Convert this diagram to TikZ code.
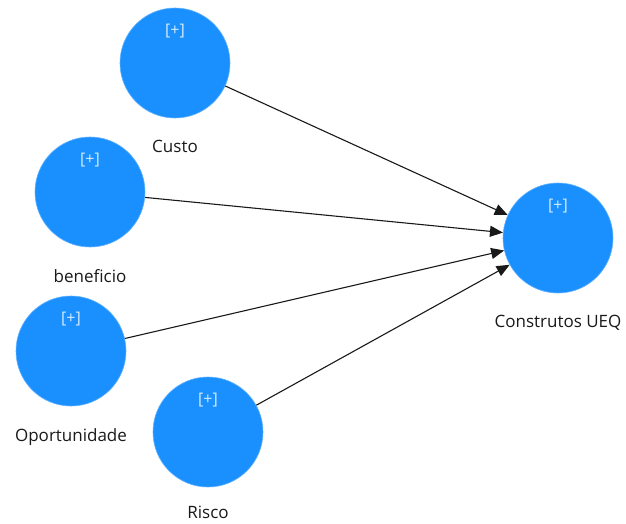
\documentclass[tikz,border=0pt]{standalone}
\usepackage{fontspec}
\setmainfont{Open Sans}
\usetikzlibrary{positioning,arrows.meta}

\definecolor{ueqblue}{RGB}{26,144,255}
\tikzset{
  plus/.style={text=white!82!ueqblue, font=\fontsize{16}{18}\selectfont, inner sep=0pt, label distance=-31pt},
  latent/.style={circle, fill=ueqblue, draw=ueqblue!70!white, line width=0.6pt, minimum size=110pt, inner sep=0pt, label={[plus]90:{[+]}}},
  cname/.style={font=\fontsize{17}{20}\selectfont, text=black!90, inner sep=1pt},
  link/.style={draw=black!90, line width=1.1pt, -{Triangle[length=13pt,width=11pt]}}
}

\begin{document}
\begin{tikzpicture}[x=1pt,y=1pt]
      \useasboundingbox (0,0) rectangle (626,-524);
      % constructs
      \node[latent] (custo) at (175,-63) {};
      \node[latent] (beneficio) at (90,-192) {};
      \node[latent] (oport) at (71,-351) {};
      \node[latent] (risco) at (208,-432) {};
      \node[latent] (ueq) at (558,-238) {};
      % names
      \node[cname, below=21pt of custo] {Custo};
      \node[cname, below=21pt of beneficio] {beneficio};
      \node[cname, below=21pt of oport] {Oportunidade};
      \node[cname, below=18pt of risco] {Risco};
      \node[cname, below=21pt of ueq] {Construtos UEQ};
      % paths
      \draw[link] (custo) -- (ueq);
      \draw[link] (beneficio) -- (ueq);
      \draw[link] (oport) -- (ueq);
      \draw[link] (risco) -- (ueq);
    \end{tikzpicture}
\end{document}
